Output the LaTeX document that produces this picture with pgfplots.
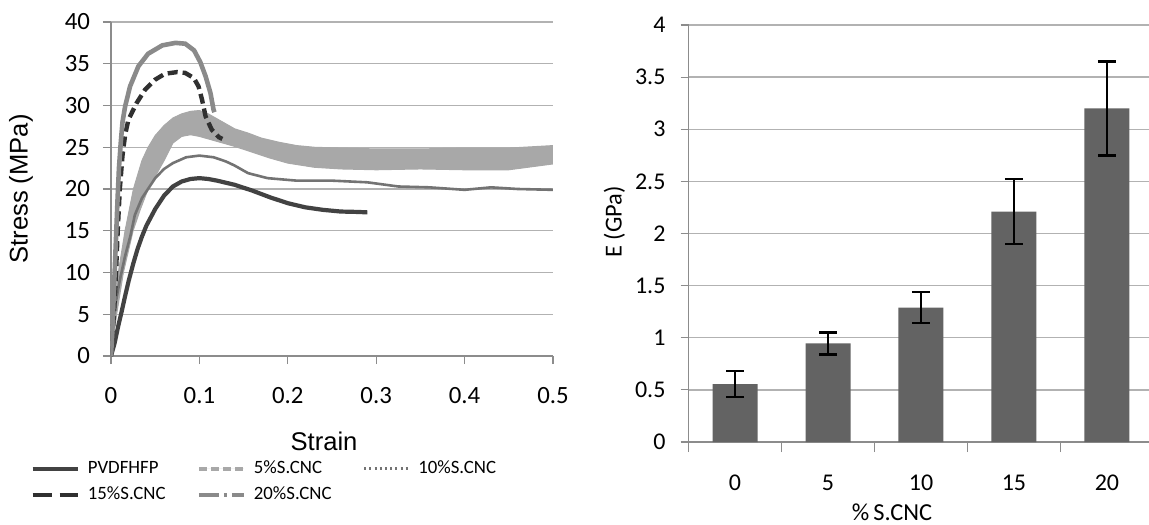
\documentclass[border=0pt]{standalone}
\usepackage{fontspec}
\setmainfont{Carlito}
\newfontfamily\arialfont{Liberation Sans}
\usepackage{pgfplots}
\pgfplotsset{compat=1.18}
\definecolor{cA}{gray}{0.26}
\definecolor{cB}{gray}{0.66}
\definecolor{cC}{gray}{0.45}
\definecolor{cD}{gray}{0.19}
\definecolor{cE}{gray}{0.54}
\definecolor{barc}{gray}{0.39}
\definecolor{gridc}{gray}{0.70}
\definecolor{axisc}{gray}{0.55}
\begin{document}
\begin{tikzpicture}
\useasboundingbox (0,0) rectangle (574.5pt,262pt);
\begin{axis}[
  at={(55.5pt,84pt)}, anchor=south west, scale only axis,
  width=221pt, height=167pt,
  xmin=0, xmax=0.5, ymin=0, ymax=40,
  xtick={0,0.1,0.2,0.3,0.4,0.5}, ytick={0,5,10,15,20,25,30,35,40},
  axis x line*=bottom, axis y line*=left,
  axis line style={draw=axisc, line width=0.6pt, -},
  tick style={draw=axisc, line width=0.6pt},
  tick align=outside, major tick length=4pt,
  ymajorgrids, major grid style={draw=gridc, line width=0.7pt},
  /pgf/number format/assume math mode=true,
  tick label style={font=\fontsize{12.4}{14}\selectfont},
  xticklabel shift=8pt, yticklabel shift=3pt,
  xlabel={\arialfont Strain}, ylabel={\arialfont Stress (MPa)},
  label style={font=\fontsize{12.8}{15}\selectfont},
  xlabel style={at={(axis description cs:0.482,-0.255)}, anchor=center},
  ylabel style={at={(axis description cs:-0.2036,0.5)}, anchor=center},
  legend columns=3, legend cell align=left,
  legend style={at={(axis description cs:-0.183,-0.30)}, anchor=north west, draw=none, fill=none,
    font=\fontsize{9.4}{11}\selectfont, inner sep=0pt, row sep=1.2pt,
    /tikz/every odd column/.append style={column sep=2pt}},
]
\addplot[draw=cA, line width=2.1pt,
  legend image code/.code={\draw[cA,line width=2pt](0pt,0pt)--(22.5pt,0pt);}]
  coordinates {(0,0) (0.004,1.5) (0.008,3.5) (0.012,5.3) (0.016,7.2) (0.02,9.0) (0.025,11) (0.03,12.8) (0.035,14.3) (0.04,15.6) (0.05,17.6) (0.06,19.2) (0.07,20.3) (0.08,20.9) (0.09,21.2) (0.1,21.3) (0.11,21.2) (0.12,21.0) (0.14,20.5) (0.16,19.8) (0.18,19.0) (0.2,18.3) (0.22,17.8) (0.24,17.5) (0.26,17.3) (0.28,17.25) (0.29,17.2)};
\addlegendentry{\makebox[52.5pt][l]{PVDFHFP}}
\addplot[fill=cB, draw=cB, line width=0.5pt,
  legend image code/.code={\draw[cB,line width=2pt,dash pattern=on 4pt off 2pt](0pt,0pt)--(22.5pt,0pt);}]
  coordinates {(0,0.5) (0.0027,5) (0.0083,10) (0.0159,15) (0.0254,20) (0.035,23.4) (0.042,25) (0.05,26.4) (0.06,27.6) (0.07,28.5) (0.08,29.0) (0.09,29.3) (0.1,29.4) (0.11,29.0) (0.12,28.4) (0.13,27.8) (0.14,27.2) (0.155,26.7) (0.17,26.1) (0.19,25.6) (0.21,25.2) (0.23,25.0) (0.26,24.9) (0.3,24.8) (0.35,24.8) (0.4,24.9) (0.45,24.9) (0.5,25.2)
  (0.5,23.0) (0.45,22.3) (0.4,22.3) (0.35,22.4) (0.3,22.3) (0.26,22.4) (0.23,22.6) (0.2,23.1) (0.18,23.7) (0.16,24.4) (0.14,25.1) (0.12,25.7) (0.1,26.3) (0.09,26.5) (0.08,26.3) (0.07,25.5) (0.06,23.4) (0.05,21.5) (0.042,20) (0.033,17.5) (0.025,15) (0.014,10) (0.0064,5) (0.002,1.5) (0,0)};
\addlegendentry{\makebox[52.5pt][l]{5\%S.CNC}}
\addplot[draw=cC, line width=1.3pt,
  legend image code/.code={\draw[cC,line width=1.2pt,dash pattern=on 1pt off 1.6pt](0pt,0pt)--(22.5pt,0pt);}]
  coordinates {(0,0) (0.0015,3) (0.0045,5.9) (0.01,9.1) (0.016,12) (0.022,14.4) (0.027,16.9) (0.035,18.9) (0.05,21.3) (0.06,22.4) (0.07,23.1) (0.085,23.8) (0.1,24.0) (0.116,23.8) (0.13,23.3) (0.14,22.8) (0.155,21.9) (0.177,21.3) (0.21,21.0) (0.25,21.0) (0.29,20.8) (0.325,20.3) (0.36,20.2) (0.4,19.9) (0.43,20.2) (0.46,20.0) (0.5,19.9)};
\addlegendentry{10\%S.CNC}
\addplot[draw=cD, line width=2.2pt, dash pattern=on 5pt off 2.5pt,
  legend image code/.code={\draw[cD,line width=2.2pt,dash pattern=on 9.5pt off 4pt](0pt,0pt)--(22.5pt,0pt);}]
  coordinates {(0,0) (0.0015,2.5) (0.0034,5) (0.0057,10) (0.0076,15) (0.010,20) (0.013,24) (0.016,26.5) (0.0197,28.3) (0.029,30.3) (0.0386,31.9) (0.05,33.1) (0.061,33.8) (0.0746,34.0) (0.084,33.9) (0.0936,33.3) (0.099,32.3) (0.103,30.7) (0.107,28.7) (0.114,27.1) (0.122,26.2) (0.126,26.0)};
\addlegendentry{\makebox[52.5pt][l]{15\%S.CNC}}
\addplot[draw=cE, line width=2.3pt,
  legend image code/.code={\draw[cE,line width=2pt,dash pattern=on 10pt off 2.5pt on 1.5pt off 2.5pt](0pt,0pt)--(22.5pt,0pt);}]
  coordinates {(0,0) (0.0015,3) (0.003,7) (0.0045,11) (0.006,15) (0.0075,19) (0.009,22.5) (0.011,25.5) (0.013,28) (0.016,29.9) (0.0216,32.3) (0.031,34.7) (0.042,36.2) (0.058,37.2) (0.073,37.5) (0.084,37.4) (0.094,36.6) (0.101,35.2) (0.107,33.5) (0.1125,31.5) (0.116,29.5) (0.117,29.2)};
\addlegendentry{\makebox[52.5pt][l]{20\%S.CNC}}
\end{axis}
\begin{axis}[
  at={(344.25pt,41pt)}, anchor=south west, scale only axis,
  width=230.25pt, height=208.5pt,
  xmin=-0.5, xmax=4.452, ymin=0, ymax=4,
  xtick={0,1,2,3,4}, xticklabels={0,5,10,15,20},
  minor xtick={-0.5,0.5,1.5,2.5,3.5},
  ytick={0,0.5,1,1.5,2,2.5,3,3.5,4},
  axis x line*=bottom, axis y line*=left,
  axis line style={draw=axisc, line width=0.6pt, -},
  tick style={draw=axisc, line width=0.6pt},
  tick align=outside, major tick length=4pt, minor tick length=5pt,
  every major x tick/.append style={draw=none},
  ymajorgrids, major grid style={draw=gridc, line width=0.7pt},
  /pgf/number format/assume math mode=true,
  tick label style={font=\fontsize{12}{14}\selectfont},
  xticklabel shift=9pt, yticklabel shift=4pt,
  xlabel={\%\,S.CNC}, ylabel={E (GPa)},
  label style={font=\fontsize{12.2}{14}\selectfont},
  xlabel style={at={(axis description cs:0.442,-0.168)}, anchor=center},
  ylabel style={at={(axis description cs:-0.161,0.528)}, anchor=center},
]
\addplot[ybar, bar width=22.5pt, fill=barc, draw=none,
  error bars/.cd, y dir=both, y explicit,
  error bar style={black, line width=1.2pt},
  error mark options={black, line width=1.2pt, mark size=4.5pt, rotate=90}]
  coordinates {(0,0.555) +- (0,0.125) (1,0.945) +- (0,0.107) (2,1.29) +- (0,0.15) (3,2.21) +- (0,0.31) (4,3.20) +- (0,0.45)};
\end{axis}
\end{tikzpicture}
\end{document}
